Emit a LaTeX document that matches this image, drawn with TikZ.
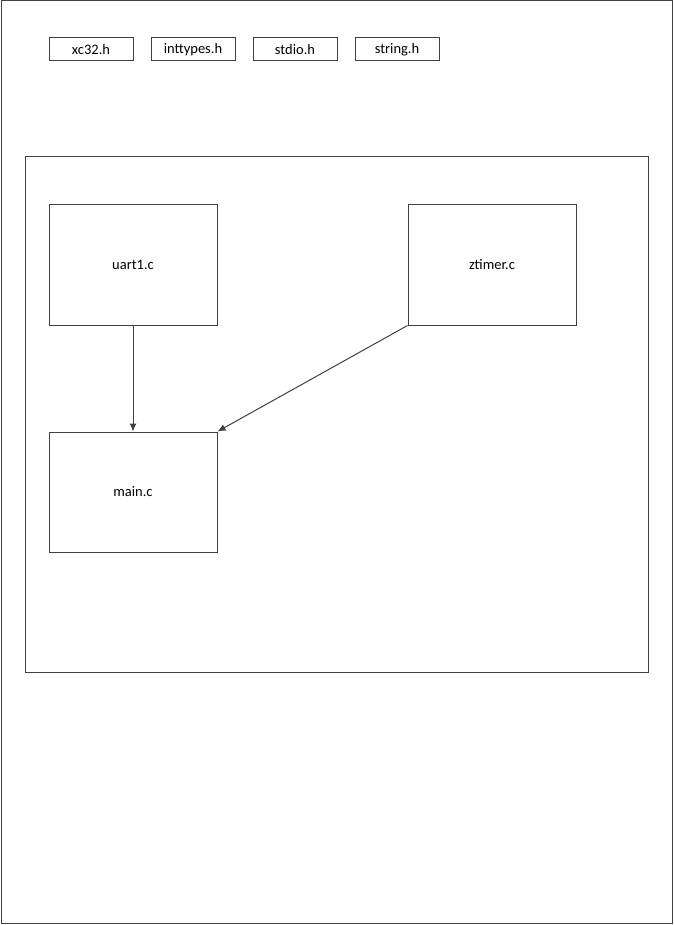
\documentclass[tikz,border=0pt]{standalone}
\usepackage{fontspec}
\setmainfont{Carlito}
\usetikzlibrary{positioning, arrows, arrows.meta}
\tikzset{>={Latex[length=8pt,width=7pt]}}

\begin{document}
\begin{tikzpicture}
    [
        x=1pt, y=-1pt, line width=1pt,
        header_node/.style={rectangle, draw=black!75, minimum width=84pt, minimum height=23pt, inner sep=0pt, font=\fontsize{14.5}{16}\selectfont},
        file_node/.style={rectangle, draw=black!75, minimum width=168pt, minimum height=120pt, inner sep=0pt, font=\fontsize{14.5}{16}\selectfont},
    ]
  \useasboundingbox (0,0) rectangle (673,925);

  \draw[black!75] (1,1) rectangle (672,923);

  % headers
  \node[header_node] (xc) at (91,49.5) {xc32.h};
  \node[header_node] (inttypes) at (193,49.5) {inttypes.h};
  \node[header_node] (stdio) at (295,49.5) {stdio.h};
  \node[header_node] (string) at (397,49.5) {string.h};

  % sources
  \draw[black!75] (25,157) rectangle (648,672);
  \node[file_node] (uart) at (133,265) {uart1.c};
  \node[file_node] (ztimer) at (492,265) {ztimer.c};
  \node[file_node] (main) at (133,492) {main.c};

  \draw[->, black!75] (uart) -- (main);
  \draw[->, black!75] (ztimer.south west) -- (main.north east);
\end{tikzpicture}
\end{document}
